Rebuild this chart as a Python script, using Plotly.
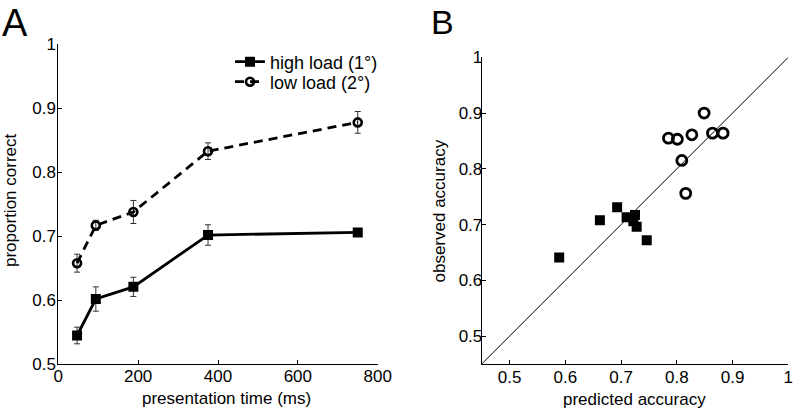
import plotly.graph_objects as go

# ---- Panel A data ----
time_ms = [47, 94, 188, 375, 750]
high_load = [0.545, 0.602, 0.621, 0.702, 0.706]
high_err = [0.013, 0.019, 0.015, 0.016, 0.006]
low_load = [0.658, 0.717, 0.738, 0.833, 0.878]
low_err = [0.014, 0.008, 0.018, 0.013, 0.017]

# ---- Panel B data ----
pred_high = [0.589, 0.662, 0.693, 0.710, 0.725, 0.722, 0.728, 0.746]
obs_high = [0.641, 0.708, 0.731, 0.713, 0.717, 0.706, 0.696, 0.672]
pred_low = [0.785, 0.801, 0.827, 0.849, 0.864, 0.883, 0.809, 0.816]
obs_low = [0.855, 0.853, 0.861, 0.900, 0.864, 0.864, 0.815, 0.756]
diag = [0.45, 1.0]

W, H = 793, 413
FONT = "Arial, Liberation Sans, Helvetica, sans-serif"

def px2x(p):
    return p / W

def px2y(p):
    return 1 - p / H

fig = go.Figure()

fig.add_trace(go.Scatter(
    x=time_ms, y=high_load, name="high load (1°)", mode="lines+markers",
    line=dict(color="black", width=2.8),
    marker=dict(symbol="square", size=10, color="black"),
    error_y=dict(type="data", array=high_err, color="#333333", thickness=1, width=3),
    xaxis="x", yaxis="y", legend="legend"))
fig.add_trace(go.Scatter(
    x=time_ms, y=low_load, name="low load (2°)", mode="lines+markers",
    line=dict(color="black", width=2.8, dash="9px,6px"),
    marker=dict(symbol="circle-open", size=8, color="black", line=dict(width=2.6, color="black")),
    error_y=dict(type="data", array=low_err, color="#333333", thickness=1, width=3),
    xaxis="x", yaxis="y", legend="legend2"))

fig.add_trace(go.Scatter(
    x=diag, y=diag, mode="lines", line=dict(color="black", width=1),
    showlegend=False, xaxis="x2", yaxis="y2", hoverinfo="skip"))
fig.add_trace(go.Scatter(
    x=pred_high, y=obs_high, mode="markers", showlegend=False,
    marker=dict(symbol="square", size=10, color="black"),
    xaxis="x2", yaxis="y2"))
fig.add_trace(go.Scatter(
    x=pred_low, y=obs_low, mode="markers", showlegend=False,
    marker=dict(symbol="circle-open", size=10, color="black", line=dict(width=2.8, color="black")),
    xaxis="x2", yaxis="y2"))

axis_common = dict(showline=True, linecolor="black", linewidth=1, ticks="inside",
                   ticklen=4, tickcolor="black", showgrid=False, zeroline=False,
                   automargin=False, ticklabeloverflow="allow",
                   tickfont=dict(family=FONT, size=17, color="black"), mirror=False)

ticks_b = [0.5, 0.6, 0.7, 0.8, 0.9, 1]
ticktext_b = ["0.5", "0.6", "0.7", "0.8", "0.9", "1"]
ticks_ax = [0, 200, 400, 600, 800]

legend_style = dict(xanchor="left", yanchor="middle", bgcolor="rgba(0,0,0,0)",
                    font=dict(family=FONT, size=18, color="black"), borderwidth=0)

fig.update_layout(
    width=W, height=H, autosize=False, margin=dict(l=0, r=0, t=0, b=0, pad=0),
    paper_bgcolor="white", plot_bgcolor="white",
    font=dict(family=FONT, color="black"),
    xaxis=dict(domain=[px2x(58.3), px2x(377.7)], range=[0, 800],
               tickvals=ticks_ax, anchor="y", ticklabelstandoff=-4, **axis_common),
    yaxis=dict(domain=[px2y(364.3), px2y(44.3)], range=[0.5, 1],
               tickvals=ticks_b, ticktext=ticktext_b, anchor="x", ticklabelstandoff=-2, **axis_common),
    xaxis2=dict(domain=[px2x(481.7), px2x(788.3)], range=[0.45, 1],
                tickvals=ticks_b, ticktext=ticktext_b, anchor="y2", ticklabelstandoff=-2, **axis_common),
    yaxis2=dict(domain=[px2y(364), px2y(57.3)], range=[0.45, 1],
                tickvals=ticks_b, ticktext=ticktext_b, anchor="x2", ticklabelstandoff=-5, **axis_common),
    legend=dict(x=px2x(230), y=px2y(62), **legend_style),
    legend2=dict(x=px2x(230), y=px2y(82), **legend_style),
    showlegend=True,
)

annotations = [
    dict(text="A", x=px2x(0), y=px2y(0), xanchor="left", yanchor="top", font=dict(size=38)),
    dict(text="B", x=px2x(429), y=px2y(1), xanchor="left", yanchor="top", font=dict(size=34)),
    dict(text="presentation time (ms)", x=px2x(226), y=px2y(398), xanchor="center", yanchor="middle", font=dict(size=17)),
    dict(text="proportion correct", x=px2x(11), y=px2y(200), xanchor="center", yanchor="middle", textangle=-90, font=dict(size=17)),
    dict(text="predicted accuracy", x=px2x(634), y=px2y(399), xanchor="center", yanchor="middle", font=dict(size=17)),
    dict(text="observed accuracy", x=px2x(438.5), y=px2y(211), xanchor="center", yanchor="middle", textangle=-90, font=dict(size=17)),
]
for a in annotations:
    a.update(xref="paper", yref="paper", showarrow=False)
    a["font"] = dict(family=FONT, color="black", size=a["font"]["size"])
fig.update_layout(annotations=annotations)

fig.write_html(
    "out.html",
    config={"responsive": False, "displayModeBar": False},
    post_script="document.body.style.margin='0';document.body.style.padding='0';",
)
